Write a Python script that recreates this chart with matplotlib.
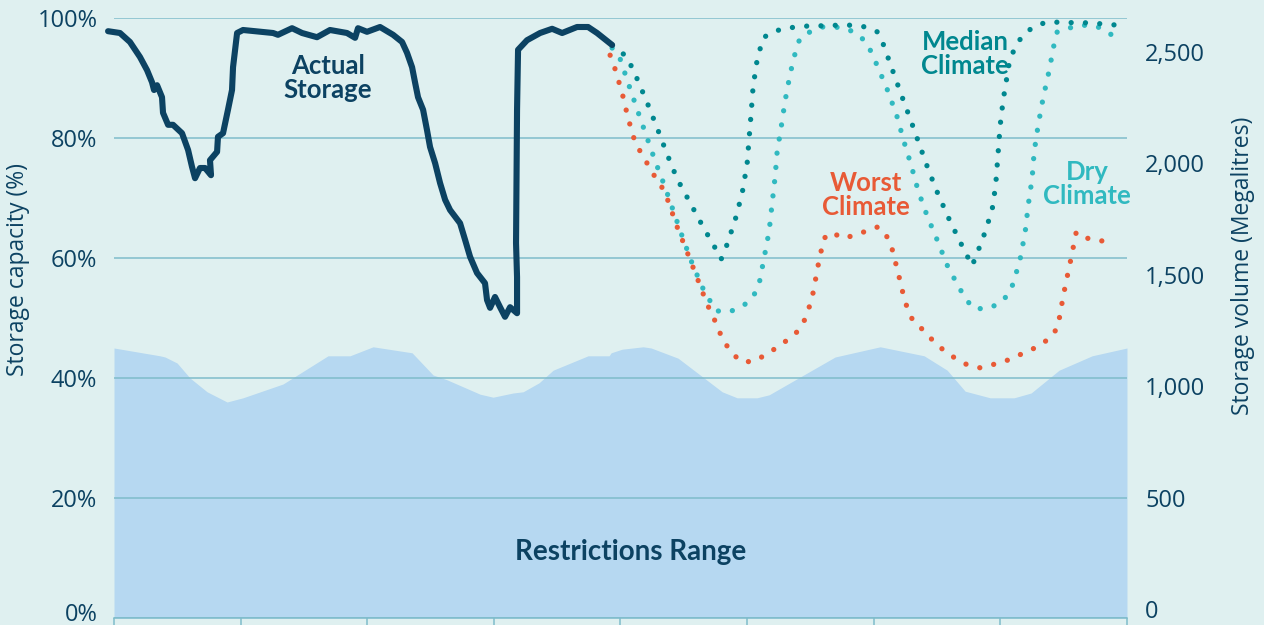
import matplotlib.pyplot as plt
from matplotlib.ticker import FuncFormatter
from matplotlib.transforms import ScaledTranslation

# colours
bg = '#dff0f0'
grid_col = '#7fbccb'
navy = '#0c4262'
fill_col = '#b6d8f1'
median_col = '#00878f'
dry_col = '#30b9c0'
worst_col = '#e85a36'

# x in years from start of chart, y in storage capacity (%)
restrict_x = [0, 0.363, 0.403, 0.498, 0.600, 0.735, 0.893, 1.019, 1.335, 1.690, 1.864,
              2.046, 2.354, 2.520, 2.630, 2.891, 2.994, 3.152, 3.231, 3.357, 3.468,
              3.744, 3.910, 3.926, 4.013, 4.179, 4.242, 4.455, 4.803, 4.921, 5.079,
              5.174, 5.695, 6.051, 6.398, 6.580, 6.722, 6.919, 7.109, 7.243, 7.464,
              7.725, 8.0]
restrict_y = [45.0, 43.7, 43.5, 42.5, 40.0, 37.7, 36.0, 36.7, 39.0, 43.7, 43.7,
              45.2, 44.2, 40.5, 39.7, 37.3, 36.8, 37.5, 37.7, 39.2, 41.3,
              43.7, 43.7, 44.2, 44.8, 45.2, 45.0, 43.3, 37.7, 36.7, 36.7,
              37.2, 43.5, 45.2, 43.7, 41.3, 37.8, 36.7, 36.7, 37.5, 41.3,
              43.7, 45.0]

actual_x = [-0.047, 0.047, 0.126, 0.205, 0.261, 0.300, 0.316, 0.340, 0.379, 0.387,
            0.427, 0.466, 0.537, 0.585, 0.616, 0.640, 0.679, 0.719, 0.766, 0.758,
            0.814, 0.821, 0.861, 0.900, 0.932, 0.940, 0.972, 1.019, 1.256, 1.295,
            1.406, 1.485, 1.603, 1.706, 1.840, 1.904, 1.927, 1.998, 2.101, 2.204,
            2.275, 2.314, 2.354, 2.378, 2.401, 2.441, 2.472, 2.496, 2.536, 2.575,
            2.615, 2.654, 2.733, 2.773, 2.812, 2.867, 2.930, 2.946, 2.970, 3.009,
            3.049, 3.088, 3.128, 3.183, 3.183, 3.175, 3.183, 3.191, 3.262, 3.365,
            3.460, 3.539, 3.657, 3.744, 3.815, 3.934]
actual_y = [97.8, 97.5, 96.0, 93.5, 91.3, 89.3, 88.0, 88.8, 86.8, 84.2,
            82.2, 82.2, 80.8, 78.0, 75.2, 73.3, 75.0, 75.0, 73.8, 76.3,
            77.7, 80.2, 80.8, 84.7, 88.0, 91.8, 97.5, 98.0, 97.5, 97.2,
            98.3, 97.5, 96.8, 98.0, 97.5, 96.7, 98.3, 97.7, 98.5, 97.2,
            96.0, 94.2, 91.8, 89.2, 86.8, 84.7, 81.3, 78.5, 75.8, 72.5,
            69.7, 68.0, 65.8, 63.0, 60.2, 57.5, 55.8, 53.0, 51.7, 53.5,
            51.8, 50.2, 51.8, 50.8, 56.8, 62.5, 84.7, 94.7, 96.3, 97.5,
            98.2, 97.5, 98.5, 98.5, 97.5, 95.5]

median_x = [3.934, 4.052, 4.139, 4.218, 4.289, 4.368, 4.447, 4.550, 4.652, 4.747,
            4.795, 4.834, 4.905, 4.961, 5.000, 5.016, 5.032, 5.047, 5.079, 5.126,
            5.205, 5.300, 5.395, 5.498, 5.600, 5.719, 5.829, 5.940, 6.027, 6.074,
            6.145, 6.216, 6.288, 6.359, 6.430, 6.501, 6.588, 6.682, 6.777, 6.817,
            6.888, 6.943, 6.967, 6.983, 6.998, 7.022, 7.070, 7.109, 7.172, 7.259,
            7.362, 7.472, 7.591, 7.701, 7.812, 7.931]
median_y = [95.5, 93.5, 89.5, 85.5, 81.7, 77.3, 73.2, 69.2, 65.2, 61.7,
            59.8, 61.8, 66.3, 70.8, 75.7, 80.0, 84.2, 88.5, 93.0, 96.7,
            97.7, 98.3, 98.5, 98.7, 98.7, 98.8, 98.8, 98.5, 97.7, 95.7,
            91.5, 87.3, 83.2, 79.0, 74.8, 71.0, 66.8, 62.7, 58.7, 60.8,
            64.8, 68.8, 73.2, 77.7, 82.0, 86.3, 92.5, 94.8, 97.0, 98.5,
            99.3, 99.3, 99.2, 99.2, 99.0, 98.8]

dry_x = [3.934, 3.989, 4.060, 4.131, 4.202, 4.273, 4.352, 4.423, 4.494, 4.573,
         4.660, 4.755, 4.858, 4.968, 5.047, 5.095, 5.134, 5.174, 5.197, 5.221,
         5.237, 5.269, 5.300, 5.340, 5.387, 5.419, 5.498, 5.592, 5.695, 5.790,
         5.877, 5.948, 6.035, 6.114, 6.185, 6.240, 6.295, 6.351, 6.422, 6.501,
         6.580, 6.675, 6.777, 6.872, 6.975, 7.054, 7.101, 7.156, 7.196, 7.220,
         7.251, 7.267, 7.299, 7.338, 7.385, 7.425, 7.449, 7.536, 7.646, 7.749,
         7.844, 7.915]
dry_y = [95.0, 93.7, 89.2, 84.8, 80.5, 76.2, 71.8, 67.5, 63.2, 58.7,
         54.5, 51.2, 51.0, 52.0, 53.5, 55.7, 60.0, 64.5, 69.0, 73.5,
         77.7, 81.8, 86.2, 90.7, 94.8, 96.7, 97.7, 98.5, 98.5, 98.2,
         97.2, 95.8, 91.7, 87.7, 83.5, 79.3, 75.5, 71.2, 67.0, 63.0,
         58.8, 55.0, 51.7, 51.5, 52.2, 53.7, 55.7, 59.8, 64.3, 68.8,
         73.3, 77.7, 82.2, 86.7, 91.2, 95.7, 97.7, 98.3, 98.8, 98.7,
         97.8, 96.5]

worst_x = [3.918, 3.957, 4.013, 4.060, 4.115, 4.163, 4.218, 4.273, 4.336, 4.376,
           4.447, 4.526, 4.605, 4.684, 4.731, 4.771, 4.818, 4.882, 4.945, 5.039,
           5.134, 5.229, 5.316, 5.395, 5.450, 5.490, 5.521, 5.561, 5.585, 5.608,
           5.671, 5.750, 5.837, 5.916, 6.035, 6.106, 6.145, 6.193, 6.240, 6.272,
           6.311, 6.390, 6.469, 6.548, 6.643, 6.738, 6.840, 6.935, 7.038, 7.133,
           7.227, 7.330, 7.409, 7.457, 7.472, 7.512, 7.559, 7.599, 7.686, 7.788,
           7.891]
worst_y = [93.8, 91.5, 87.5, 83.3, 79.3, 77.5, 75.5, 73.5, 71.5, 69.5,
           65.2, 61.0, 56.7, 52.3, 50.3, 48.2, 46.0, 44.2, 42.8, 42.7,
           43.7, 45.0, 46.3, 47.7, 49.5, 51.8, 54.2, 58.8, 61.2, 63.3,
           64.3, 63.3, 63.7, 64.3, 65.2, 63.5, 61.5, 57.5, 53.3, 51.2,
           49.5, 48.0, 46.2, 44.7, 43.3, 42.2, 41.7, 42.2, 42.8, 43.7,
           44.5, 45.7, 47.0, 48.7, 50.8, 55.3, 60.0, 64.3, 63.3, 62.8,
           63.2]

left_ticks = [0, 20, 40, 60, 80, 100]
right_ticks = [0, 500, 1000, 1500, 2000, 2500]
x_ticks = list(range(9))

plt.rcParams['font.family'] = ['Open Sans', 'DejaVu Sans']

fig = plt.figure(figsize=(12.64, 6.25), dpi=100, facecolor=bg)
ax = fig.add_axes([0.0902, 0.0112, 0.8014, 0.96])
ax.set_facecolor(bg)

ax.fill_between(restrict_x, 0, restrict_y, color=fill_col, lw=0, zorder=1)

ax.set_xlim(0, 8)
ax.set_ylim(0, 100)
ax.set_yticks(left_ticks)
ax.set_yticklabels([f'{t}%' for t in left_ticks])
ax.set_xticks(x_ticks)
ax.set_xticklabels([])
ax.grid(axis='y', color=grid_col, lw=1.1)
ax.set_axisbelow('line')
for s in ['top', 'left', 'right']:
    ax.spines[s].set_visible(False)
ax.spines['bottom'].set_color(grid_col)
ax.spines['bottom'].set_linewidth(1.1)
ax.tick_params(axis='x', length=8, color=grid_col, width=1.1)
ax.tick_params(axis='y', length=0, pad=12, labelsize=17, labelcolor=navy)
ax.set_ylabel('Storage capacity (%)', fontsize=16.5, color=navy)
ax.yaxis.set_label_coords(-0.083, 0.58)

dots = (0, (0.01, 2.7))
ax.plot(dry_x, dry_y, color=dry_col, lw=3.8, ls=dots, dash_capstyle='round', zorder=3)
ax.plot(worst_x, worst_y, color=worst_col, lw=3.8, ls=dots, dash_capstyle='round', zorder=4)
ax.plot(median_x, median_y, color=median_col, lw=3.8, ls=dots, dash_capstyle='round', zorder=5)
ax.plot(actual_x, actual_y, color=navy, lw=4.4, solid_capstyle='round',
        solid_joinstyle='round', zorder=6, clip_on=False)

ax2 = ax.twinx()
ax2.set_ylim(-40, 2653)
ax2.set_yticks(right_ticks)
ax2.yaxis.set_major_formatter(FuncFormatter(lambda v, p: f'{int(v):,}'))
for s in ax2.spines.values():
    s.set_visible(False)
ax2.tick_params(axis='y', length=0, pad=13, labelsize=17, labelcolor=navy)
ax2.set_ylabel('Storage volume (Megalitres)', fontsize=16.5, color=navy)
ax2.yaxis.set_label_coords(1.103, 0.587)

# lift the bottom "0%" label a touch so it stays inside the figure
zero_lbl = ax.yaxis.get_major_ticks()[0].label1
zero_lbl.set_transform(zero_lbl.get_transform() +
                       ScaledTranslation(0, 4 / 72, fig.dpi_scale_trans))

lab = dict(ha='center', va='center', fontweight='bold', linespacing=1.0,
           family=['Lato', 'DejaVu Sans'])
ax.text(1.69, 90.0, 'Actual\nStorage', color=navy, fontsize=18.5, **lab)
ax.text(6.72, 94.0, 'Median\nClimate', color=median_col, fontsize=18.5, **lab)
ax.text(5.94, 70.5, 'Worst\nClimate', color=worst_col, fontsize=18.5, **lab)
ax.text(7.685, 72.3, 'Dry\nClimate', color=dry_col, fontsize=18.5, **lab)
ax.text(4.08, 11.0, 'Restrictions Range', color=navy, fontsize=20, **lab)

fig.savefig('out.png', dpi=100, facecolor=bg)
